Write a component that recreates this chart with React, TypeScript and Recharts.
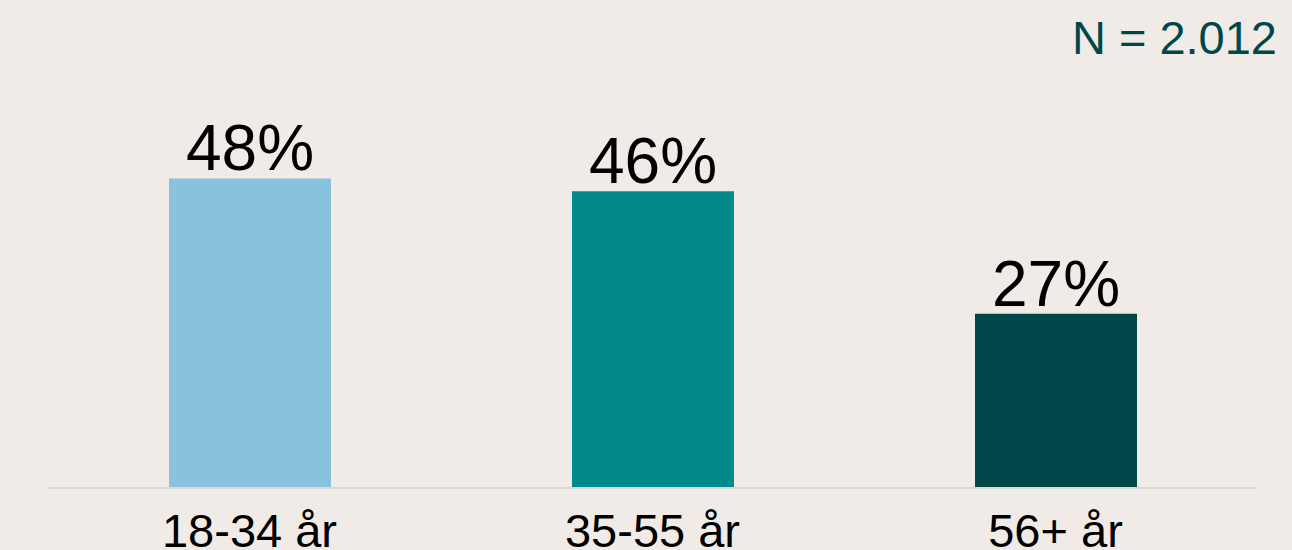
import React from "react";
import { BarChart, Bar, XAxis, YAxis, Cell, LabelList } from "recharts";

const categories = ["18-34 år", "35-55 år", "56+ år"];
const values = [48, 46, 27];
const colors = ["#89c2dc", "#028a8a", "#00474a"];
const sampleNote = "N = 2.012";

const data = categories.map((c, i) => ({ name: c, value: values[i] }));

const FONT = "'Liberation Sans', Arial, sans-serif";

const Tick = (props: any) => {
  const { x, payload } = props;
  return (
    <text x={x} y={547} textAnchor="middle" fontSize={47} fontFamily={FONT} fill="#000">
      {payload.value}
    </text>
  );
};

export default function App() {
  return (
    <div
      style={{
        position: "fixed",
        left: 0,
        top: 0,
        width: 1292,
        height: 550,
        background: "#f0ebe7",
        overflow: "hidden",
      }}
    >
      <BarChart
        width={1292}
        height={550}
        data={data}
        margin={{ top: 101, right: 35, bottom: 0, left: 48 }}
      >
        <XAxis
          dataKey="name"
          axisLine={{ stroke: "#d9d9d9", strokeWidth: 2 }}
          tickLine={false}
          tick={<Tick />}
          interval={0}
          height={62}
        />
        <YAxis hide domain={[0, 60]} />
        <Bar dataKey="value" barSize={162} isAnimationActive={false}>
          {data.map((d, i) => (
            <Cell key={d.name} fill={colors[i]} />
          ))}
          <LabelList
            dataKey="value"
            position="top"
            offset={8}
            formatter={(v: any) => `${v}%`}
            style={{ fontSize: 64, fontFamily: FONT, fill: "#000" }}
          />
        </Bar>
      </BarChart>
      <svg
        width={1292}
        height={550}
        style={{ position: "absolute", left: 0, top: 0, pointerEvents: "none" }}
      >
        <text x={1277} y={54} textAnchor="end" fontSize={47} fontFamily={FONT} fill="#00474a">
          {sampleNote}
        </text>
      </svg>
    </div>
  );
}
